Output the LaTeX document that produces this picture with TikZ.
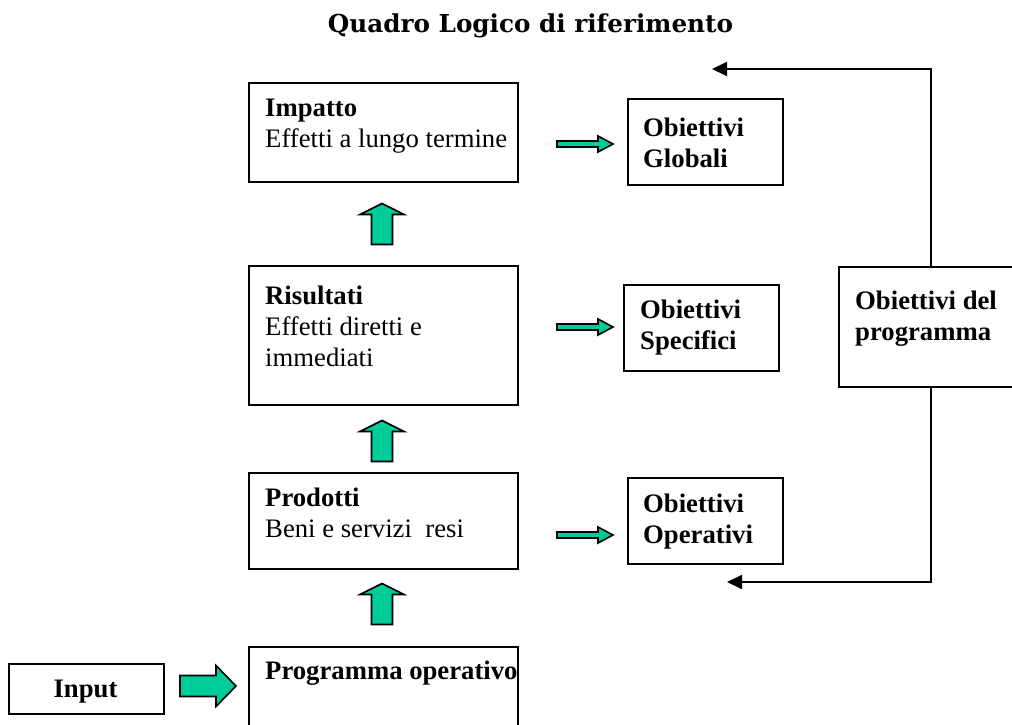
\documentclass[tikz,border=0pt]{standalone}
\usepackage{graphicx}
\usepackage{fontspec}
\setmainfont{Liberation Serif}
\newfontfamily\titlefont{DejaVu Serif}
\usetikzlibrary{arrows.meta,calc}
\definecolor{arrowgreen}{RGB}{0,204,153}
\tikzset{
 box/.style={draw, line width=2pt, inner sep=0pt, anchor=north west},
 lbl/.style={anchor=base west, inner sep=0pt, font=\fontsize{26.7}{31}\selectfont, align=left},
 blk/.style={fill=arrowgreen, draw=black, line width=1.6pt, line join=miter},
 conn/.style={line width=2pt, -{Triangle[length=15pt,width=14pt]}},
 pics/uparr/.style={code={\path[blk] (0,-20.5) -- (22,-9.5) -- (10.5,-9.5) -- (10.5,20.5) -- (-10.5,20.5) -- (-10.5,-9.5) -- (-22,-9.5) -- cycle;}},
 pics/rarr/.style={code={\path[blk] (0,0) -- (-15,-8) -- (-15,-3) -- (-56,-3) -- (-56,3) -- (-15,3) -- (-15,8) -- cycle;}},
 pics/inarr/.style={code={\path[blk] (0,0) -- (-20,-20.5) -- (-20,-10.5) -- (-56,-10.5) -- (-56,10.5) -- (-20,10.5) -- (-20,20.5) -- cycle;}},
}
\begin{document}
\begin{tikzpicture}[x=1pt,y=-1pt]
\useasboundingbox (0,0) rectangle (1012,724);
% title
\node[anchor=base, inner sep=0pt] (title) at (530.5,32) {\resizebox{405pt}{!}{\titlefont\bfseries Quadro Logico di riferimento}};
% left column boxes
\node[box, minimum width=269pt, minimum height=99pt] (impatto) at (248,82) {};
\node[box, minimum width=269pt, minimum height=139pt] (risultati) at (248,265) {};
\node[box, minimum width=269pt, minimum height=96pt] (prodotti) at (248,472) {};
\node[box, minimum width=269pt, minimum height=100pt] (programma) at (248,646) {};
\node[box, minimum width=155pt, minimum height=50pt] (input) at (8,663) {};
% objective boxes
\node[box, minimum width=155pt, minimum height=86pt] (globali) at (627,98) {};
\node[box, minimum width=155pt, minimum height=86pt] (specifici) at (623,284) {};
\node[box, minimum width=155pt, minimum height=86pt] (operativi) at (627,477) {};
\node[box, minimum width=184pt, minimum height=120pt] (prog) at (838,266) {};
% texts (base anchor = baseline of the last line)
\node[lbl] (impattoT) at (265,147) {\textbf{Impatto}\\Effetti a lungo termine};
\node[lbl] (risultatiT) at (265,366) {\textbf{Risultati}\\Effetti diretti e\\immediati};
\node[lbl] (prodottiT) at (265,537) {\textbf{Prodotti}\\Beni e servizi\ \ resi};
\node[lbl] (programmaT) at (265,679) {\textbf{Programma operativo}};
\node[lbl, anchor=base] (inputT) at (85.5,697) {\textbf{Input}};
\node[lbl] (globaliT) at (643,167) {\textbf{Obiettivi}\\\textbf{Globali}};
\node[lbl] (specificiT) at (640,349) {\textbf{Obiettivi}\\\textbf{Specifici}};
\node[lbl] (operativiT) at (643,543) {\textbf{Obiettivi}\\\textbf{Operativi}};
\node[lbl] (progT) at (855,340) {\textbf{Obiettivi del}\\\textbf{programma}};
% block arrows
\pic at ($(impatto.south)!0.5!(risultati.north)+(-1.5,0)$) {uparr};
\pic at ($(risultati.south)!0.5!(prodotti.north)+(-1.5,2)$) {uparr};
\pic at ($(prodotti.south)!0.5!(programma.north)+(-1.5,-4)$) {uparr};
\pic at (613,144) {rarr};
\pic at (613,327) {rarr};
\pic at (613,535) {rarr};
\pic at (236,686) {inarr};
% feedback connectors
\coordinate (topTip) at (712,69);
\coordinate (botTip) at (727,582);
\draw[conn] (prog.north) |- (topTip);
\draw[conn] (prog.south) |- (botTip);
\end{tikzpicture}
\end{document}
